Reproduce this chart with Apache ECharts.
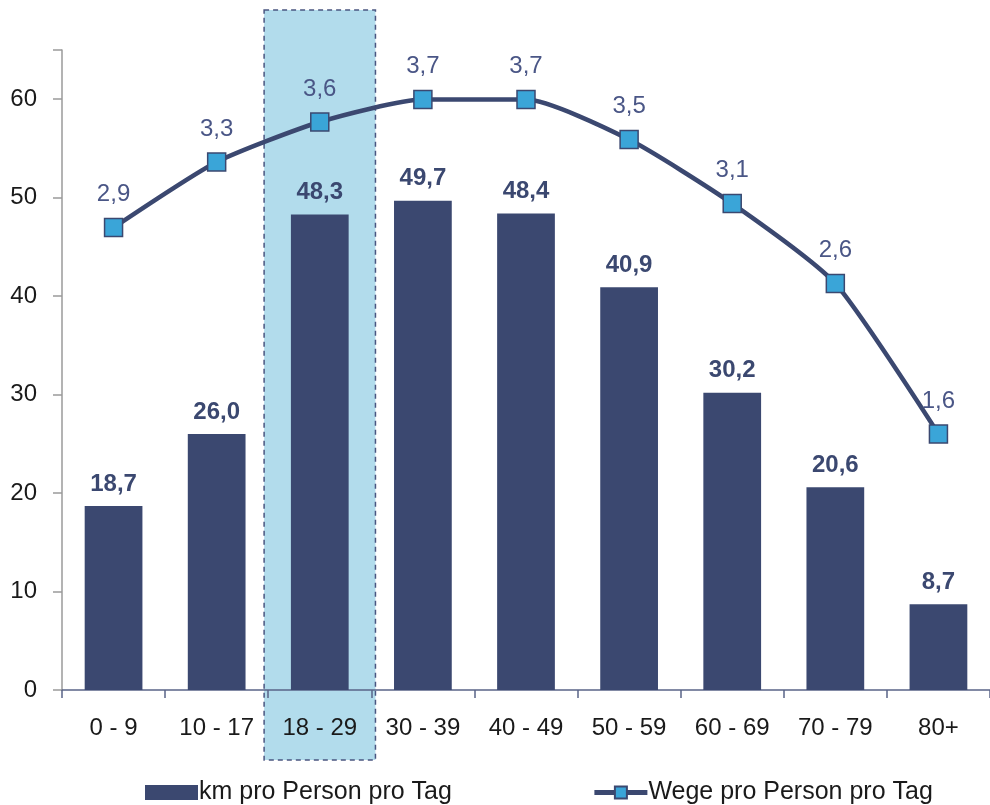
<!DOCTYPE html>
<html>
<head>
<meta charset="utf-8">
<script src="https://cdn.jsdelivr.net/npm/echarts@6/dist/echarts.min.js"></script>
<style>
  html, body { margin: 0; padding: 0; background: #fff; }
  #chart { width: 990px; height: 805px; }
</style>
</head>
<body>
<div id="chart"></div>
<script>
const categories = ['0 - 9', '10 - 17', '18 - 29', '30 - 39', '40 - 49', '50 - 59', '60 - 69', '70 - 79', '80+'];
const kmPerDay = [18.7, 26.0, 48.3, 49.7, 48.4, 40.9, 30.2, 20.6, 8.7];
// marker heights, printed labels as shown
const tripsPerDay = [2.89, 3.30, 3.55, 3.69, 3.69, 3.44, 3.04, 2.54, 1.60];
const tripsLabels = ['2,9', '3,3', '3,6', '3,7', '3,7', '3,5', '3,1', '2,6', '1,6'];
const yTicks = [0, 10, 20, 30, 40, 50, 60];
const highlightIndex = 2;

const navy = '#3b4870';
const fmt = v => v.toFixed(1).replace('.', ',');

const chart = echarts.init(document.getElementById('chart'));

const option = {
  animation: false,
  textStyle: { fontFamily: "'Liberation Sans', Arial, sans-serif" },
  grid: { left: 62, right: -5, top: 50, bottom: 115, containLabel: false },
  legend: {
    left: 140,
    top: 775,
    itemWidth: 53,
    itemHeight: 15,
    itemGap: 140,
    lineStyle: { width: 5 },
    textStyle: { fontSize: 25, color: '#1a1a1a', padding: [0, 0, 0, -4] },
    data: [
      { name: 'km pro Person pro Tag', icon: 'rect' },
      { name: 'Wege pro Person pro Tag' }
    ]
  },
  xAxis: {
    type: 'category',
    data: categories,
    axisLine: { lineStyle: { color: '#5a6488', width: 1.5 } },
    axisTick: { show: true, length: 8, inside: false, lineStyle: { color: '#5a6488', width: 1.5 } },
    axisLabel: { fontSize: 24, color: '#1a1a1a', margin: 26 }
  },
  yAxis: [
    {
      type: 'value',
      min: 0,
      max: 65,
      interval: 10,
      axisLine: { show: true, lineStyle: { color: '#9a9a9a', width: 1.5 } },
      axisTick: { show: true, length: 9, lineStyle: { color: '#9a9a9a', width: 1.5 } },
      axisLabel: {
        fontSize: 24, color: '#1a1a1a', margin: 25,
        formatter: v => (yTicks.includes(v) ? String(v) : '')
      },
      splitLine: { show: false }
    },
    {
      type: 'value',
      min: 0,
      max: 4,
      show: false,
      splitLine: { show: false }
    }
  ],
  series: [
    {
      name: 'km pro Person pro Tag',
      type: 'bar',
      data: kmPerDay,
      barWidth: '56%',
      itemStyle: { color: navy },
      label: {
        show: true,
        position: 'top',
        distance: 10,
        fontSize: 24,
        fontWeight: 'bold',
        color: navy,
        formatter: p => fmt(p.value)
      },
      z: 2
    },
    {
      name: 'Wege pro Person pro Tag',
      type: 'line',
      yAxisIndex: 1,
      data: tripsPerDay,
      smooth: 0.2,
      symbol: 'rect',
      symbolSize: 18,
      lineStyle: { color: navy, width: 4.5 },
      itemStyle: { color: '#3aa5d8', borderColor: navy, borderWidth: 1.5 },
      label: {
        show: true,
        position: 'top',
        distance: 11,
        fontSize: 24,
        color: '#4a5686',
        formatter: p => tripsLabels[p.dataIndex]
      },
      z: 3
    }
  ]
};

chart.setOption(option);

// highlight box around the 18-29 group, placed from the axis scale
const cx = chart.convertToPixel({ xAxisIndex: 0 }, categories[highlightIndex]);
const cx1 = chart.convertToPixel({ xAxisIndex: 0 }, categories[highlightIndex + 1]);
const band = cx1 - cx;
const yTop = chart.convertToPixel({ yAxisIndex: 0 }, 65) - 40;
const yBottom = chart.convertToPixel({ yAxisIndex: 0 }, 0) + 70;
chart.setOption({
  graphic: [{
    type: 'rect',
    z: -10,
    shape: { x: cx - band * 0.54, y: yTop, width: band * 1.08, height: yBottom - yTop },
    style: { fill: '#b2dcec', stroke: '#4a5680', lineWidth: 1.5, lineDash: [5, 4] },
    silent: true
  }]
});
</script>
</body>
</html>
